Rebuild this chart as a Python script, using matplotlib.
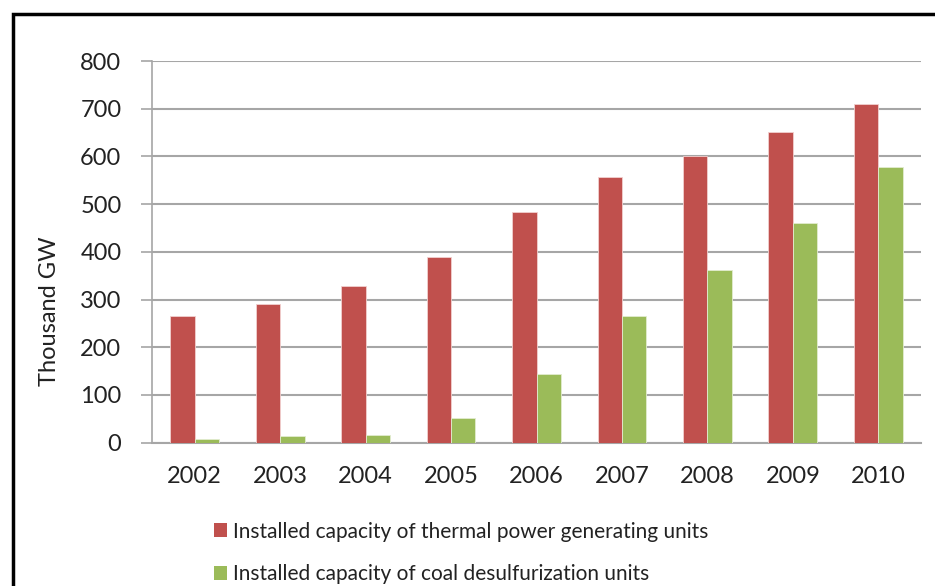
import matplotlib
matplotlib.use("Agg")
import matplotlib.pyplot as plt
import numpy as np
from matplotlib.patches import Rectangle, Patch

years = ["2002", "2003", "2004", "2005", "2006", "2007", "2008", "2009", "2010"]
thermal = [266, 290, 328, 389, 484, 557, 601, 651, 710]
desulf = [8, 14, 17, 51, 145, 266, 362, 460, 578]
series_names = ["Installed capacity of thermal power generating units",
                "Installed capacity of coal desulfurization units"]
colors = ["#C0504D", "#9BBB59"]

plt.rcParams['font.family'] = ['Lato', 'DejaVu Sans']

fig = plt.figure(figsize=(9.35, 5.86), dpi=100)
ax = fig.add_axes([152/935, 1 - 442.7/586, 769/935, 381.7/586])

x = np.arange(len(years))
w = 1 / 3.5
ax.bar(x - w/2, thermal, width=w, color=colors[0], edgecolor='#F2D0CF', linewidth=0.6, zorder=3)
ax.bar(x + w/2, desulf, width=w, color=colors[1], edgecolor='#E2ECD0', linewidth=0.6, zorder=3)

ax.set_xlim(-0.5, len(years) - 0.5)
ax.set_ylim(0, 800)
ax.set_yticks(range(0, 801, 100))
ax.set_xticks(x)
ax.set_xticklabels(years)
ax.yaxis.grid(True, color='#A6A6A6', linewidth=1.5, zorder=0)
ax.set_axisbelow(True)
for s in ['top', 'right']:
    ax.spines[s].set_visible(False)
ax.spines['left'].set_color('#A6A6A6')
ax.spines['bottom'].set_color('#A6A6A6')
ax.spines['left'].set_linewidth(1.2)
ax.spines['bottom'].set_linewidth(1.5)
ax.tick_params(axis='y', length=8, color='#A6A6A6', width=1.2, labelsize=17, pad=14, labelcolor='#222222')
ax.tick_params(axis='x', length=0, labelsize=17, pad=17, labelcolor='#222222')
fig.text(50/935, 1 - 311/586, "Thousand GW", rotation=90, ha='center', va='center',
         fontsize=17, color='#222222')

handles = [Patch(facecolor=c) for c in colors]
leg = fig.legend(handles, series_names, loc='center left', bbox_to_anchor=(214/935, 1 - 553/586),
                 frameon=False, fontsize=15, handlelength=0.62, handleheight=0.62,
                 handletextpad=0.3, labelspacing=1.1, borderaxespad=0, borderpad=0,
                 labelcolor='#222222')

fig.patches.append(Rectangle((13/935, -0.1), 1.2, 1 - 14/586 + 0.1, transform=fig.transFigure,
                             fill=False, edgecolor='black', linewidth=2.5, zorder=10))

fig.savefig("out.png", dpi=100)
